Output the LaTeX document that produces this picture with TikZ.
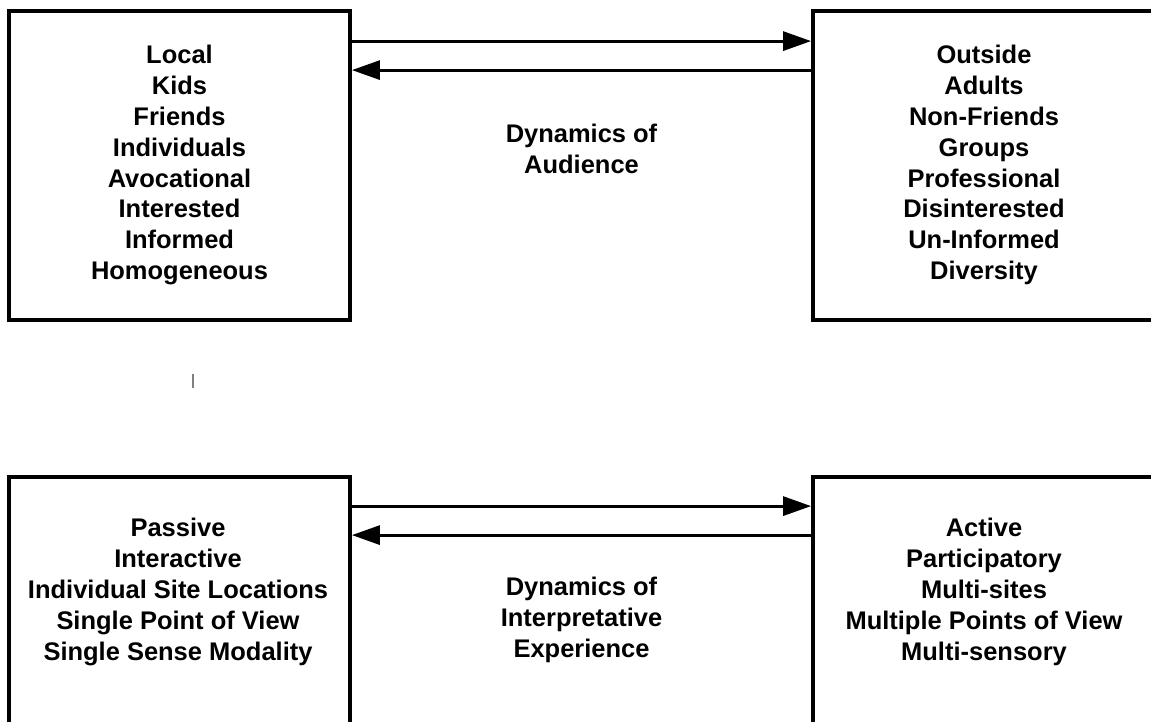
\documentclass[tikz,border=0pt]{standalone}
\usepackage{fontspec}
\setmainfont{Liberation Sans}
\usetikzlibrary{arrows.meta}

\begin{document}
\begin{tikzpicture}[x=0.02cm, y=-0.02cm, box/.style = {rectangle, draw=black, line width=2.2pt, minimum width=#1, minimum height=6.18cm, inner sep=0pt}, low/.style = {minimum height=5.66cm}, words/.style = {align=center, inner sep=0pt, font=\bfseries\fontsize{14.5}{17.6}\selectfont}, flow/.style = {-{Triangle[length=0.56cm, width=0.38cm]}, line width=1.7pt}]
        \path[use as bounding box] (0,0) rectangle (1151,721);
        \clip (0,0) rectangle (1151,721);
        \fill[white] (0,0) rectangle (1151,721);

        % boxes (the right ones run off the page)
        \draw (179.5, 165.5) node[box=6.82cm] (local) {};
        \draw (986.5, 165.5) node[box=6.94cm] (outside) {};
        \draw (179.5, 618.5) node[box=6.82cm, low] (passive) {};
        \draw (986.5, 618.5) node[box=6.94cm, low] (active) {};

        \draw (179.5, 165) node[words] (localtx) {Local\\Kids\\Friends\\Individuals\\Avocational\\Interested\\Informed\\Homogeneous};
        \draw (984, 165) node[words] (outsidetx) {Outside\\Adults\\Non-Friends\\Groups\\Professional\\Disinterested\\Un-Informed\\Diversity};
        \draw (178, 592) node[words] (passivetx) {Passive\\Interactive\\Individual Site Locations\\Single Point of View\\Single Sense Modality};
        \draw (984, 592) node[words] (activetx) {Active\\Participatory\\Multi-sites\\Multiple Points of View\\Multi-sensory};

        \draw (581.5, 149) node[words] (aud) {Dynamics of\\Audience};
        \draw (581.5, 620) node[words] (exp) {Dynamics of\\Interpretative\\Experience};

        \draw[flow] ([yshift=-0.64cm]local.north east) -- ([yshift=-0.64cm]outside.north west);
        \draw[flow] ([yshift=-1.22cm]outside.north west) -- ([yshift=-1.22cm]local.north east);
        \draw[flow] ([yshift=-0.62cm]passive.north east) -- ([yshift=-0.62cm]active.north west);
        \draw[flow] ([yshift=-1.2cm]active.north west) -- ([yshift=-1.2cm]passive.north east);

        \draw[gray, line width=1pt] (193,374) -- (193,388);
      \end{tikzpicture}
\end{document}
